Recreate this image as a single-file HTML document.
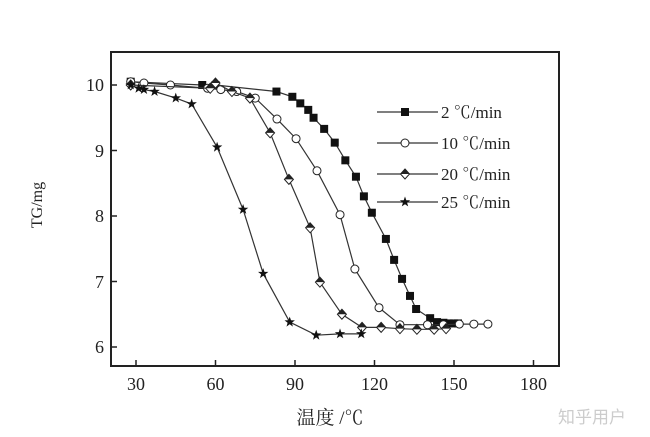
<!DOCTYPE html>
<html><head><meta charset="utf-8">
<style>
html,body{margin:0;padding:0;background:#fff;}
svg{display:block;}
text{font-family:"Liberation Serif","Noto Serif CJK SC",serif;fill:#222;}
</style></head>
<body>
<svg id="s" width="650" height="437" viewBox="0 0 650 437" xmlns="http://www.w3.org/2000/svg">
<rect x="111" y="52" width="448" height="314" fill="none" stroke="#222" stroke-width="2"/>
<g stroke="#222" stroke-width="1.5">
<line x1="136" y1="366" x2="136" y2="360"/><line x1="215.5" y1="366" x2="215.5" y2="360"/><line x1="295" y1="366" x2="295" y2="360"/><line x1="374.5" y1="366" x2="374.5" y2="360"/><line x1="454" y1="366" x2="454" y2="360"/><line x1="533.5" y1="366" x2="533.5" y2="360"/>
<line x1="111" y1="85" x2="117" y2="85"/><line x1="111" y1="150.5" x2="117" y2="150.5"/><line x1="111" y1="216" x2="117" y2="216"/><line x1="111" y1="281.5" x2="117" y2="281.5"/><line x1="111" y1="347" x2="117" y2="347"/>
</g>
<g font-size="18" text-anchor="middle">
<text x="136" y="390">30</text><text x="215.5" y="390">60</text><text x="295" y="390">90</text><text x="374.5" y="390">120</text><text x="454" y="390">150</text><text x="533.5" y="390">180</text>
</g>
<g font-size="18" text-anchor="end">
<text x="104" y="91">10</text><text x="104" y="157">9</text><text x="104" y="222">8</text><text x="104" y="288">7</text><text x="104" y="353">6</text>
</g>
<text x="42" y="205" font-size="16" text-anchor="middle" transform="rotate(-90 42 205)" fill="#555">TG/mg</text>
<text x="330" y="424" font-size="19" text-anchor="middle">温度 /℃</text>
<text x="592" y="423" font-size="17" text-anchor="middle" style="fill:#ccc;font-family:'Noto Sans CJK SC',sans-serif">知乎用户</text>
<g id="plot"></g>
<g font-size="17">
<text x="441" y="118">2 ℃/min</text>
<text x="441" y="149">10 ℃/min</text>
<text x="441" y="180">20 ℃/min</text>
<text x="441" y="208">25 ℃/min</text>
</g>
</svg>
<script>
var X=function(t){return 136+(t-30)*2.65},Y=function(v){return 85+(10-v)*65.5};
var S={
sq:[[28,10.05],[55,10.0],[60,10.0],[83,9.9],[89,9.82],[92,9.72],[95,9.62],[97,9.5],[101,9.33],[105,9.12],[109,8.85],[113,8.6],[116,8.3],[119,8.05],[124.3,7.65],[127.4,7.33],[130.4,7.04],[133.4,6.78],[135.7,6.58],[141,6.44],[143.6,6.38],[146,6.37],[148,6.36],[150,6.36],[151.5,6.36]],
ci:[[28,10.05],[33,10.03],[43,10.0],[57,9.95],[62,9.93],[68,9.9],[75,9.8],[83.2,9.48],[90.4,9.18],[98.3,8.69],[107,8.02],[112.6,7.19],[121.7,6.6],[129.6,6.34],[140,6.34],[146,6.34],[152,6.35],[157.5,6.35],[162.8,6.35]],
di:[[28,10.0],[58,9.95],[60,10.03],[66.2,9.9],[73,9.8],[80.6,9.27],[87.7,8.56],[95.7,7.82],[99.4,6.99],[107.7,6.5],[115.3,6.3],[122.5,6.3],[129.6,6.28],[136,6.27],[142.5,6.27],[147,6.28]],
st:[[28,10.0],[31,9.95],[33,9.93],[37,9.9],[45,9.8],[51,9.71],[60.6,9.05],[70.4,8.1],[78,7.12],[88,6.38],[98,6.18],[107,6.2],[115,6.2]]
};
function mk(type,x,y){
 if(type=='sq')return '<rect x="'+(x-4)+'" y="'+(y-4)+'" width="8" height="8" fill="#111"/>';
 if(type=='ci')return '<circle cx="'+x+'" cy="'+y+'" r="4" fill="#fff" stroke="#222" stroke-width="1"/>';
 if(type=='di')return '<polygon points="'+x+','+(y-5)+' '+(x+4.5)+','+y+' '+x+','+(y+5)+' '+(x-4.5)+','+y+'" fill="#fff" stroke="#222" stroke-width="1"/><polygon points="'+x+','+(y-5)+' '+(x+4.5)+','+y+' '+(x-4.5)+','+y+'" fill="#222"/>';
 var p=[];for(var i=0;i<10;i++){var r=i%2?2.2:5.5,a=-Math.PI/2+i*Math.PI/5;p.push((x+r*Math.cos(a)).toFixed(1)+','+(y+r*Math.sin(a)).toFixed(1));}
 return '<polygon points="'+p.join(' ')+'" fill="#111"/>';
}
var h='';
for(var k in S){var d=S[k],pts=d.map(function(p){return X(p[0]).toFixed(1)+','+Y(p[1]).toFixed(1)}).join(' ');
 h+='<polyline points="'+pts+'" fill="none" stroke="#333" stroke-width="1.2"/>';
 d.forEach(function(p){h+=mk(k,X(p[0]),Y(p[1]));});}
var ly=[112,143,174,202],ks=['sq','ci','di','st'];
for(var i=0;i<4;i++){h+='<line x1="377" y1="'+ly[i]+'" x2="438" y2="'+ly[i]+'" stroke="#333" stroke-width="1.2"/>'+mk(ks[i],405,ly[i]);}
document.getElementById('plot').innerHTML=h;
</script>
</body></html>
